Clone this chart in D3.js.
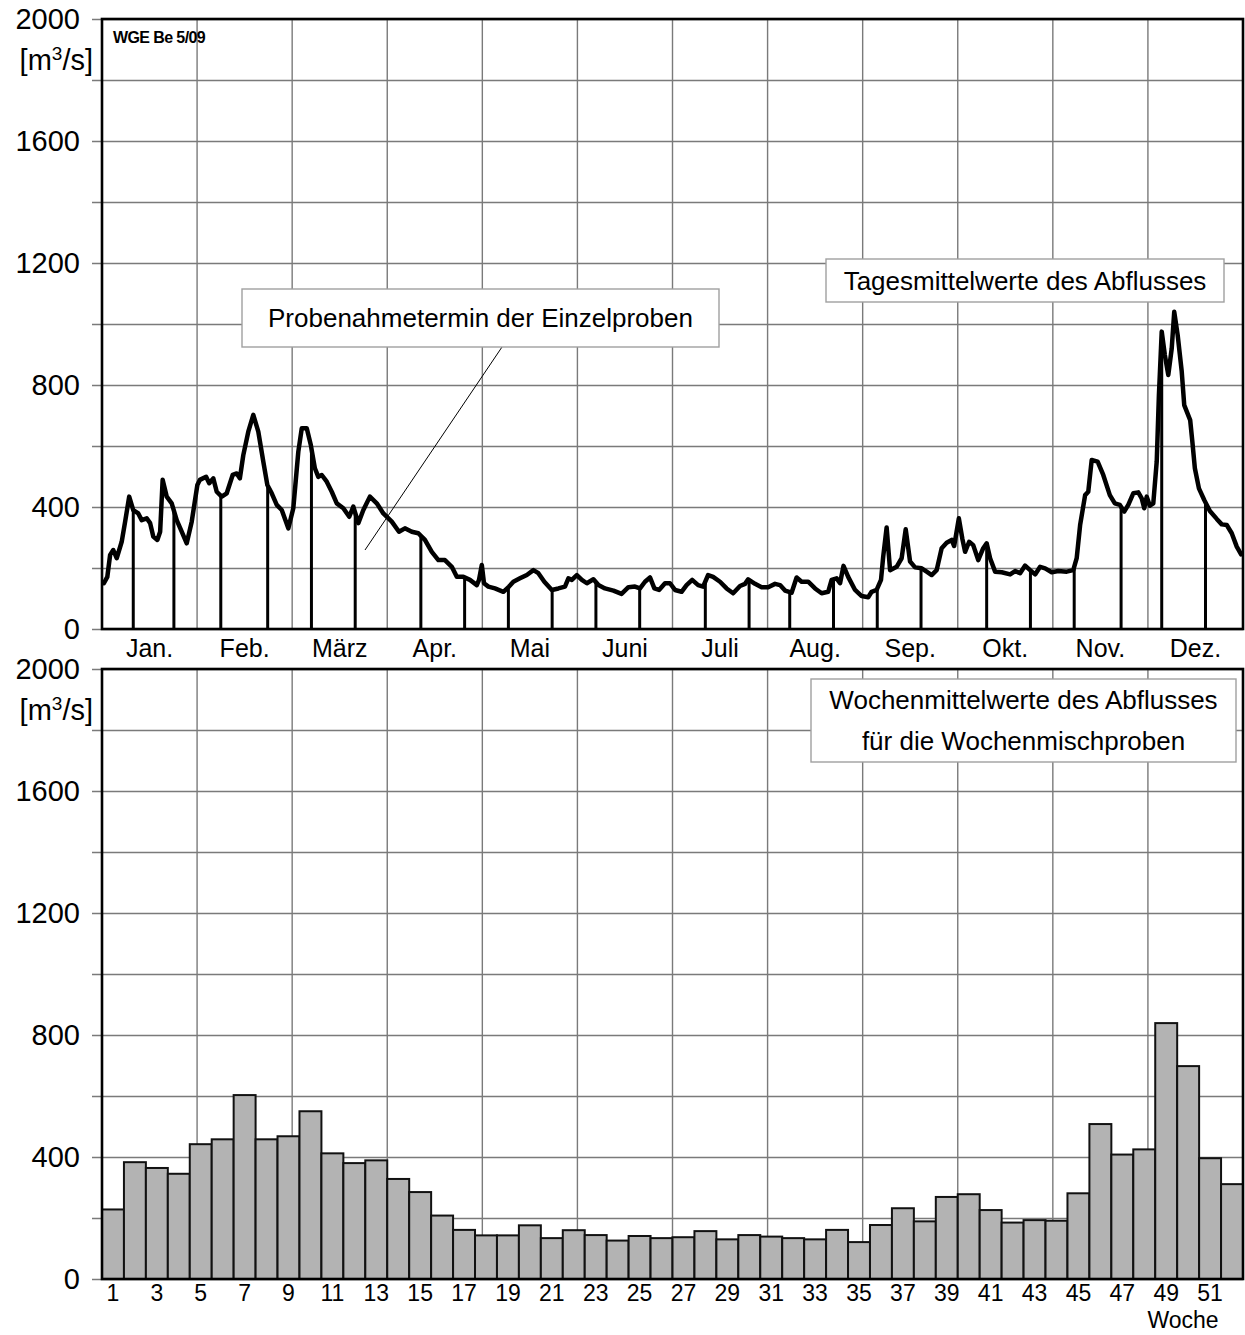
<!DOCTYPE html>
<html>
<head>
<meta charset="utf-8">
<script src="https://cdn.jsdelivr.net/npm/d3@7"></script>
<style>
body { margin: 0; background: #fff; }
text { font-family: "Liberation Sans", Arial, sans-serif; fill: #000; }
</style>
</head>
<body>
<svg id="vis" width="1245" height="1335"></svg>
<script>
// data
// daily mean discharge: [day of year, m3/s]
var dailyFlow = [[0.6,150],[1.7,171],[2.6,243],[3.6,259],[4.7,232],[6.3,286],[7.4,352],[8.7,434],[10.0,390],[11.6,379],[12.7,357],[14.3,363],[15.4,347],[16.4,303],[17.7,292],[18.6,319],[19.4,489],[20.7,434],[22.3,412],[23.9,357],[25.5,319],[27.1,281],[28.7,352],[30.5,472],[31.3,489],[33.3,499],[34.3,478],[35.6,494],[36.7,450],[38.3,434],[39.9,445],[41.8,505],[43.1,510],[44.1,494],[45.2,570],[46.8,647],[48.4,702],[50.0,647],[51.6,549],[52.9,472],[54.3,445],[55.9,407],[57.5,390],[59.6,330],[61.2,396],[62.8,581],[63.9,658],[65.5,658],[66.8,603],[68.1,527],[69.2,499],[70.3,505],[71.9,483],[73.5,450],[75.1,412],[77.2,396],[79.1,368],[80.4,401],[82.0,347],[83.6,390],[85.7,434],[87.9,412],[90.0,379],[92.7,352],[95.0,319],[96.9,330],[99.1,319],[101.2,314],[103.3,292],[105.5,253],[107.6,226],[109.7,226],[111.9,204],[113.5,171],[115.6,171],[117.7,161],[119.9,144],[120.6,161],[121.5,210],[122.2,150],[123.6,139],[125.7,133],[128.4,122],[130.2,139],[131.6,155],[133.7,166],[135.9,177],[138.0,193],[139.6,183],[141.5,155],[143.9,128],[146.0,133],[148.1,139],[149.2,166],[150.3,161],[151.9,177],[153.5,161],[155.1,150],[157.2,163],[158.8,144],[160.9,133],[163.6,126],[166.2,115],[168.4,137],[170.5,139],[172.1,133],[173.7,155],[175.3,169],[176.7,133],[178.2,128],[180.1,150],[181.7,150],[183.3,128],[185.4,122],[187.0,144],[188.8,161],[190.7,144],[192.3,139],[193.9,177],[195.5,171],[197.7,155],[199.8,133],[201.9,117],[204.1,141],[205.7,148],[206.7,163],[208.9,148],[211.0,137],[213.1,137],[215.3,148],[216.9,144],[218.5,126],[220.6,119],[222.2,169],[223.8,155],[225.9,155],[228.1,133],[230.2,117],[232.3,122],[233.4,161],[235.0,166],[236.1,150],[237.2,207],[238.7,171],[240.9,128],[243.0,108],[245.1,104],[246.2,122],[247.8,128],[249.2,161],[249.9,237],[251.0,333],[252.1,193],[254.2,204],[255.8,232],[257.1,327],[258.5,221],[260.1,202],[262.2,199],[263.8,188],[265.4,177],[267.0,193],[268.6,265],[270.2,283],[271.8,292],[272.6,272],[274.1,363],[275.2,297],[276.1,253],[277.4,286],[278.7,275],[280.3,226],[281.9,265],[283.0,281],[284.1,232],[285.7,188],[287.8,186],[290.5,179],[292.1,190],[293.7,183],[295.3,208],[296.9,193],[298.5,179],[300.1,204],[301.7,199],[303.8,186],[305.9,190],[308.6,188],[310.7,193],[311.8,232],[312.9,341],[314.5,439],[315.5,450],[316.6,554],[318.5,549],[320.3,505],[322.4,439],[324.0,412],[325.6,407],[327.0,385],[328.3,407],[329.9,445],[331.5,448],[332.6,428],[333.4,396],[334.2,434],[335.2,404],[336.3,412],[337.4,549],[338.1,767],[339.0,975],[340.0,898],[341.1,833],[342.2,920],[343.0,1040],[344.1,964],[345.4,844],[346.2,734],[348.1,685],[348.8,614],[349.6,527],[350.9,461],[352.6,423],[354.4,387],[356.6,361],[358.2,343],[359.8,341],[361.4,314],[363.0,270],[364.4,245]];

// days the single samples were taken
var sampleDays = [10, 23, 38, 53, 67, 81, 102, 116, 130, 144, 158, 172, 193, 207, 220, 234, 248, 262, 283, 297, 311, 326, 339, 353];

var months = ["Jan.", "Feb.", "März", "Apr.", "Mai", "Juni", "Juli", "Aug.", "Sep.", "Okt.", "Nov.", "Dez."];

var weeks = d3.range(1, 53);
var weekTicks = [1, 3, 5, 7, 9, 11, 13, 15, 17, 19, 21, 23, 25, 27, 29, 31, 33, 35, 37, 39, 41, 43, 45, 47, 49, 51];
// weekly mean discharge, m3/s
var weeklyFlow = [228, 383, 364, 345, 442, 458, 603, 458, 468, 550,
                  412, 380, 389, 328, 285, 208, 161, 143, 143, 176,
                  134, 160, 144, 126, 141, 134, 137, 157, 130, 144,
                  139, 134, 130, 161, 121, 177, 232, 189, 269, 278,
                  226, 185, 193, 191, 281, 508, 408, 425, 839, 698,
                  396, 311];

var yGrid = [0, 200, 400, 600, 800, 1000, 1200, 1400, 1600, 1800, 2000];
var yLabels = [0, 400, 800, 1200, 1600, 2000];

// layout
var left = 102, right = 1243;
var width = right - left;
var panelH = 610;
var topY = 19, botY = 669;

var svg = d3.select("#vis");

var x = d3.scaleLinear().domain([0, 365]).range([left, right]);
var xMonth = d3.scaleBand().domain(months).range([left, right]);
var xWeek = d3.scaleBand().domain(weeks).range([left, right]);
var yTop = d3.scaleLinear().domain([0, 2000]).range([topY + panelH, topY]);
var yBot = d3.scaleLinear().domain([0, 2000]).range([botY + panelH, botY]);

function drawGrid(y, y0) {
    // horizontal grid + ticks, labels every 400
    var ax = svg.append("g")
        .attr("transform", "translate(" + left + ",0)")
        .call(d3.axisLeft(y).tickValues(yGrid).tickSize(10).tickPadding(12)
            .tickFormat(function (d) { return yLabels.indexOf(d) >= 0 ? d : ""; }));
    ax.select(".domain").remove();
    ax.selectAll(".tick line")
        .attr("x1", width)
        .attr("stroke", "#7a7a7a")
        .attr("stroke-width", 1.4);
    ax.selectAll(".tick text")
        .style("font-size", "29px")
        .style("font-family", "'Liberation Sans', Arial, sans-serif")
        .attr("fill", "#000");

    // vertical grid at month borders
    svg.append("g")
        .selectAll("line")
        .data(months.slice(1))
        .enter()
        .append("line")
        .attr("x1", function (d) { return xMonth(d); })
        .attr("x2", function (d) { return xMonth(d); })
        .attr("y1", y0)
        .attr("y2", y0 + panelH)
        .attr("stroke", "#7a7a7a")
        .attr("stroke-width", 1.4);

    // unit
    var u = svg.append("text")
        .attr("x", 93)
        .attr("y", y0 + 51)
        .attr("text-anchor", "end")
        .style("font-size", "29px");
    u.append("tspan").text("[m");
    u.append("tspan").attr("dy", -10).style("font-size", "19px").text("3");
    u.append("tspan").attr("dy", 10).text("/s]");
}

function drawFrame(y0) {
    svg.append("rect")
        .attr("x", left)
        .attr("y", y0)
        .attr("width", width)
        .attr("height", panelH)
        .attr("fill", "none")
        .attr("stroke", "#000")
        .attr("stroke-width", 2.6);
}

function labelBox(x0, y0, w, h, lines) {
    svg.append("rect")
        .attr("x", x0).attr("y", y0)
        .attr("width", w).attr("height", h)
        .attr("fill", "#fff")
        .attr("stroke", "#a0a0a0")
        .attr("stroke-width", 1.4);
    var lh = h / lines.length;
    lines.forEach(function (t, i) {
        svg.append("text")
            .attr("x", x0 + w / 2)
            .attr("y", y0 + lh * i + lh / 2)
            .attr("dy", "0.35em")
            .attr("text-anchor", "middle")
            .style("font-size", "26px")
            .text(t);
    });
}

// ---------- top panel: daily values ----------
drawGrid(yTop, topY);

function flowAt(day) {
    var i = d3.bisector(function (d) { return d[0]; }).left(dailyFlow, day);
    if (i <= 0) return dailyFlow[0][1];
    if (i >= dailyFlow.length) return dailyFlow[dailyFlow.length - 1][1];
    var a = dailyFlow[i - 1], b = dailyFlow[i];
    var t = (day - a[0]) / (b[0] - a[0]);
    return a[1] + t * (b[1] - a[1]);
}

// sampling dates
svg.append("g")
    .selectAll("line")
    .data(sampleDays)
    .enter()
    .append("line")
    .attr("x1", function (d) { return x(d); })
    .attr("x2", function (d) { return x(d); })
    .attr("y1", yTop(0))
    .attr("y2", function (d) { return yTop(flowAt(d)); })
    .attr("stroke", "#000")
    .attr("stroke-width", 3);

svg.append("path")
    .datum(dailyFlow)
    .attr("fill", "none")
    .attr("stroke", "#000")
    .attr("stroke-width", 4.5)
    .attr("stroke-linejoin", "round")
    .attr("stroke-linecap", "round")
    .attr("d", d3.line()
        .x(function (d) { return x(d[0]); })
        .y(function (d) { return yTop(d[1]); }));

drawFrame(topY);

// month labels
var mx = svg.append("g")
    .attr("transform", "translate(0," + (topY + panelH) + ")")
    .call(d3.axisBottom(xMonth).tickSize(0).tickPadding(10));
mx.select(".domain").remove();
mx.selectAll(".tick text")
    .style("font-size", "25px")
    .style("font-family", "'Liberation Sans', Arial, sans-serif")
    .attr("fill", "#000");

svg.append("text")
    .attr("x", 113)
    .attr("y", 43)
    .style("font-size", "16px")
    .style("font-weight", "bold")
    .style("letter-spacing", "-0.6px")
    .text("WGE Be 5/09");

// leader line to a sample
svg.append("line")
    .attr("x1", 502).attr("y1", 347)
    .attr("x2", 365).attr("y2", 550)
    .attr("stroke", "#000")
    .attr("stroke-width", 1);

labelBox(242, 289, 477, 58, ["Probenahmetermin der Einzelproben"]);
labelBox(826, 259, 398, 43, ["Tagesmittelwerte des Abflusses"]);

// ---------- bottom panel: weekly values ----------
drawGrid(yBot, botY);

svg.append("g")
    .selectAll("rect")
    .data(weeklyFlow)
    .enter()
    .append("rect")
    .attr("x", function (d, i) { return xWeek(weeks[i]); })
    .attr("y", function (d) { return yBot(d); })
    .attr("width", xWeek.bandwidth())
    .attr("height", function (d) { return yBot(0) - yBot(d); })
    .attr("fill", "#b3b3b3")
    .attr("stroke", "#111")
    .attr("stroke-width", 2);

drawFrame(botY);

var wx = svg.append("g")
    .attr("transform", "translate(0," + (botY + panelH) + ")")
    .call(d3.axisBottom(xWeek).tickValues(weekTicks).tickSize(0).tickPadding(6));
wx.select(".domain").remove();
wx.selectAll(".tick text")
    .style("font-size", "23px")
    .style("font-family", "'Liberation Sans', Arial, sans-serif")
    .attr("fill", "#000");

svg.append("text")
    .attr("x", 1183)
    .attr("y", 1328)
    .attr("text-anchor", "middle")
    .style("font-size", "23px")
    .text("Woche");

labelBox(811, 679, 425, 83, ["Wochenmittelwerte des Abflusses", "für die Wochenmischproben"]);
</script>
</body>
</html>
